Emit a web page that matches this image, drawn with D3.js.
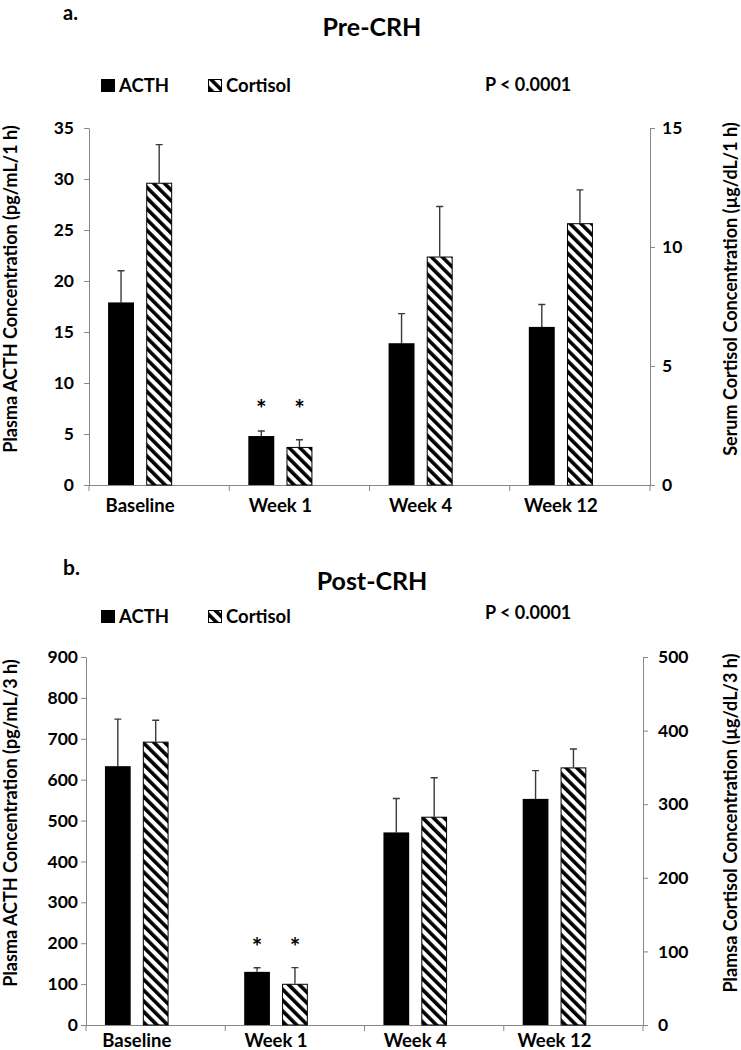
<!DOCTYPE html>
<html><head><meta charset="utf-8">
<script src="https://cdn.jsdelivr.net/npm/d3@7/dist/d3.min.js"></script>
<style>
body{margin:0;background:#fff}
text{font-family:Lato,"Open Sans",sans-serif;font-weight:bold;fill:#000}
</style>
</head><body>
<svg id="chart" width="741" height="1050"></svg>
<script>
// ---------- DATA ----------
const categories = ["Baseline", "Week 1", "Week 4", "Week 12"];
const series = ["ACTH", "Cortisol"];
const significant = ["Week 1"];

// Panel a: Pre-CRH
const preACTH        = [17.9, 4.8, 13.9, 15.5];
const preACTHErr     = [3.1, 0.5, 2.9, 2.2];
const preCortisol    = [12.7, 1.6, 9.6, 11.0];
const preCortisolErr = [1.6, 0.3, 2.1, 1.4];
const preLeftTicks   = [0, 5, 10, 15, 20, 25, 30, 35];
const preRightTicks  = [0, 5, 10, 15];

// Panel b: Post-CRH
const postACTH        = [633, 130, 471, 553];
const postACTHErr     = [115, 10, 83, 69];
const postCortisol    = [385, 56, 283, 350];
const postCortisolErr = [29, 22, 53, 25];
const postLeftTicks   = [0, 100, 200, 300, 400, 500, 600, 700, 800, 900];
const postRightTicks  = [0, 100, 200, 300, 400, 500];

// ---------- DRAWING ----------
const svg = d3.select("#chart");
const defs = svg.append("defs");
const pat = defs.append("pattern")
  .attr("id", "hatch").attr("patternUnits", "userSpaceOnUse")
  .attr("width", 7.6).attr("height", 10)
  .attr("patternTransform", "rotate(-45)");
pat.append("rect").attr("width", 7.6).attr("height", 10).attr("fill", "#fff");
pat.append("rect").attr("width", 3.6).attr("height", 10).attr("fill", "#000");

const AXIS = "#878787";

function drawPanel(cfg) {
  const g = svg.append("g");
  const x = d3.scaleBand().domain(categories).range([cfg.left, cfg.right]);
  const st = x.step();
  const xi = d3.scaleBand().domain(series).range([st * 0.136, st * 0.593]).paddingInner(0.32);
  const yL = d3.scaleLinear().domain([0, d3.max(cfg.leftTicks)]).range([cfg.bottom, cfg.top]);
  const yR = d3.scaleLinear().domain([0, d3.max(cfg.rightTicks)]).range([cfg.bottom, cfg.top]);

  // axes
  const la = g.append("g").attr("transform", `translate(${cfg.left},0)`)
    .call(d3.axisLeft(yL).tickValues(cfg.leftTicks).tickSize(5).tickSizeOuter(0).tickPadding(cfg.leftPad));
  const ra = g.append("g").attr("transform", `translate(${cfg.right},0)`)
    .call(d3.axisRight(yR).tickValues(cfg.rightTicks).tickSize(5).tickSizeOuter(0).tickPadding(cfg.rightPad));
  [la, ra].forEach(a => {
    a.selectAll("path,line").attr("stroke", AXIS);
    a.selectAll("text").style("font-size", "17.5px").style("font-family", "Lato").style("font-weight", "bold");
  });
  // x axis line + boundary ticks
  g.append("line").attr("x1", cfg.left).attr("x2", cfg.right)
    .attr("y1", cfg.bottom + 0.5).attr("y2", cfg.bottom + 0.5).attr("stroke", AXIS);
  const bounds = categories.map(c => x(c)).concat([cfg.right]);
  g.selectAll(".xt").data(bounds).join("line")
    .attr("x1", d => d).attr("x2", d => d)
    .attr("y1", cfg.bottom).attr("y2", cfg.bottom + 6).attr("stroke", AXIS);
  const groupMid = (xi.range()[0] + xi.range()[1]) / 2;
  g.selectAll(".xl").data(categories).join("text")
    .attr("x", d => x(d) + groupMid).attr("y", cfg.xLabelY)
    .attr("text-anchor", "middle").style("font-size", "18.5px").text(d => d);

  // data rows
  const rows = categories.map((c, i) => ({
    c,
    ACTH: cfg.acth[i], ACTHErr: cfg.acthErr[i],
    Cortisol: cfg.cort[i], CortisolErr: cfg.cortErr[i]
  }));
  const yFor = s => s === "ACTH" ? yL : yR;

  // error bars (upper only)
  series.forEach(s => {
    const y = yFor(s);
    g.selectAll(".e" + s).data(rows).join("path")
      .attr("d", d => {
        const cx = x(d.c) + xi(s) + xi.bandwidth() / 2;
        const y0 = y(d[s]), y1 = y(d[s] + d[s + "Err"]);
        return `M${cx},${y0}V${y1}M${cx - 3.5},${y1}H${cx + 3.5}`;
      })
      .attr("stroke", "#3a3a3a").attr("stroke-width", 1.4).attr("fill", "none");
  });

  // bars
  g.selectAll(".ba").data(rows).join("rect")
    .attr("x", d => x(d.c) + xi("ACTH")).attr("width", xi.bandwidth())
    .attr("y", d => yL(d.ACTH)).attr("height", d => cfg.bottom - yL(d.ACTH))
    .attr("fill", "#000");
  g.selectAll(".bc").data(rows).join("rect")
    .attr("x", d => x(d.c) + xi("Cortisol") + 0.5).attr("width", xi.bandwidth() - 1)
    .attr("y", d => yR(d.Cortisol) + 0.5).attr("height", d => cfg.bottom - yR(d.Cortisol) - 0.5)
    .attr("fill", "url(#hatch)").attr("stroke", "#000").attr("stroke-width", 1);

  // significance stars
  significant.forEach(c => {
    series.forEach(s => {
      g.append("text")
        .attr("x", x(c) + xi(s) + xi.bandwidth() / 2)
        .attr("y", yL(cfg.starLevel))
        .attr("text-anchor", "middle").style("font-size", "25px").text("*");
    });
  });

  // titles & legend
  g.append("text").attr("x", cfg.tagX).attr("y", cfg.tagY).style("font-size", cfg.tagSize).text(cfg.tag);
  g.append("text").attr("x", 372).attr("y", cfg.titleY).attr("text-anchor", "middle")
    .style("font-size", "25px").text(cfg.title);
  const ly = cfg.legendY;
  g.append("rect").attr("x", 101).attr("y", ly - 13).attr("width", 14).attr("height", 13).attr("fill", "#000");
  g.append("text").attr("x", 119).attr("y", ly).style("font-size", "18.5px").text("ACTH");
  g.append("rect").attr("x", 208.5).attr("y", ly - 12.5).attr("width", 13).attr("height", 12)
    .attr("fill", "url(#hatch)").attr("stroke", "#000");
  g.append("text").attr("x", 226).attr("y", ly).style("font-size", "18.5px").text("Cortisol");
  g.append("text").attr("x", 485).attr("y", cfg.pY).style("font-size", "18px").text("P < 0.0001");

  // axis titles
  g.append("text").attr("transform", `translate(17,${cfg.labelMid}) rotate(-90)`)
    .attr("text-anchor", "middle").style("font-size", "18px").text(cfg.leftTitle);
  g.append("text").attr("transform", `translate(737,${cfg.labelMid}) rotate(-90)`)
    .attr("text-anchor", "middle").style("font-size", "18px").text(cfg.rightTitle);
}

drawPanel({
  left: 89, right: 650, top: 128, bottom: 485,
  leftTicks: preLeftTicks, rightTicks: preRightTicks, leftPad: 10, rightPad: 7,
  acth: preACTH, acthErr: preACTHErr, cort: preCortisol, cortErr: preCortisolErr,
  starLevel: 6.6, xLabelY: 512,
  tag: "a.", tagX: 63, tagY: 20, tagSize: "20px", title: "Pre-CRH", titleY: 36, legendY: 92, pY: 91,
  labelMid: 289,
  leftTitle: "Plasma ACTH Concentration (pg/mL/1 h)",
  rightTitle: "Serum Cortisol Concentration (µg/dL/1 h)"
});
drawPanel({
  left: 86, right: 643, top: 657, bottom: 1025,
  leftTicks: postLeftTicks, rightTicks: postRightTicks, leftPad: 3, rightPad: 10,
  acth: postACTH, acthErr: postACTHErr, cort: postCortisol, cortErr: postCortisolErr,
  starLevel: 168, xLabelY: 1047,
  tag: "b.", tagX: 63, tagY: 575, tagSize: "21px", title: "Post-CRH", titleY: 590, legendY: 623, pY: 619,
  labelMid: 823,
  leftTitle: "Plasma ACTH Concentration (pg/mL/3 h)",
  rightTitle: "Plamsa Cortisol Concentration (µg/dL/3 h)"
});
</script>
</body></html>
